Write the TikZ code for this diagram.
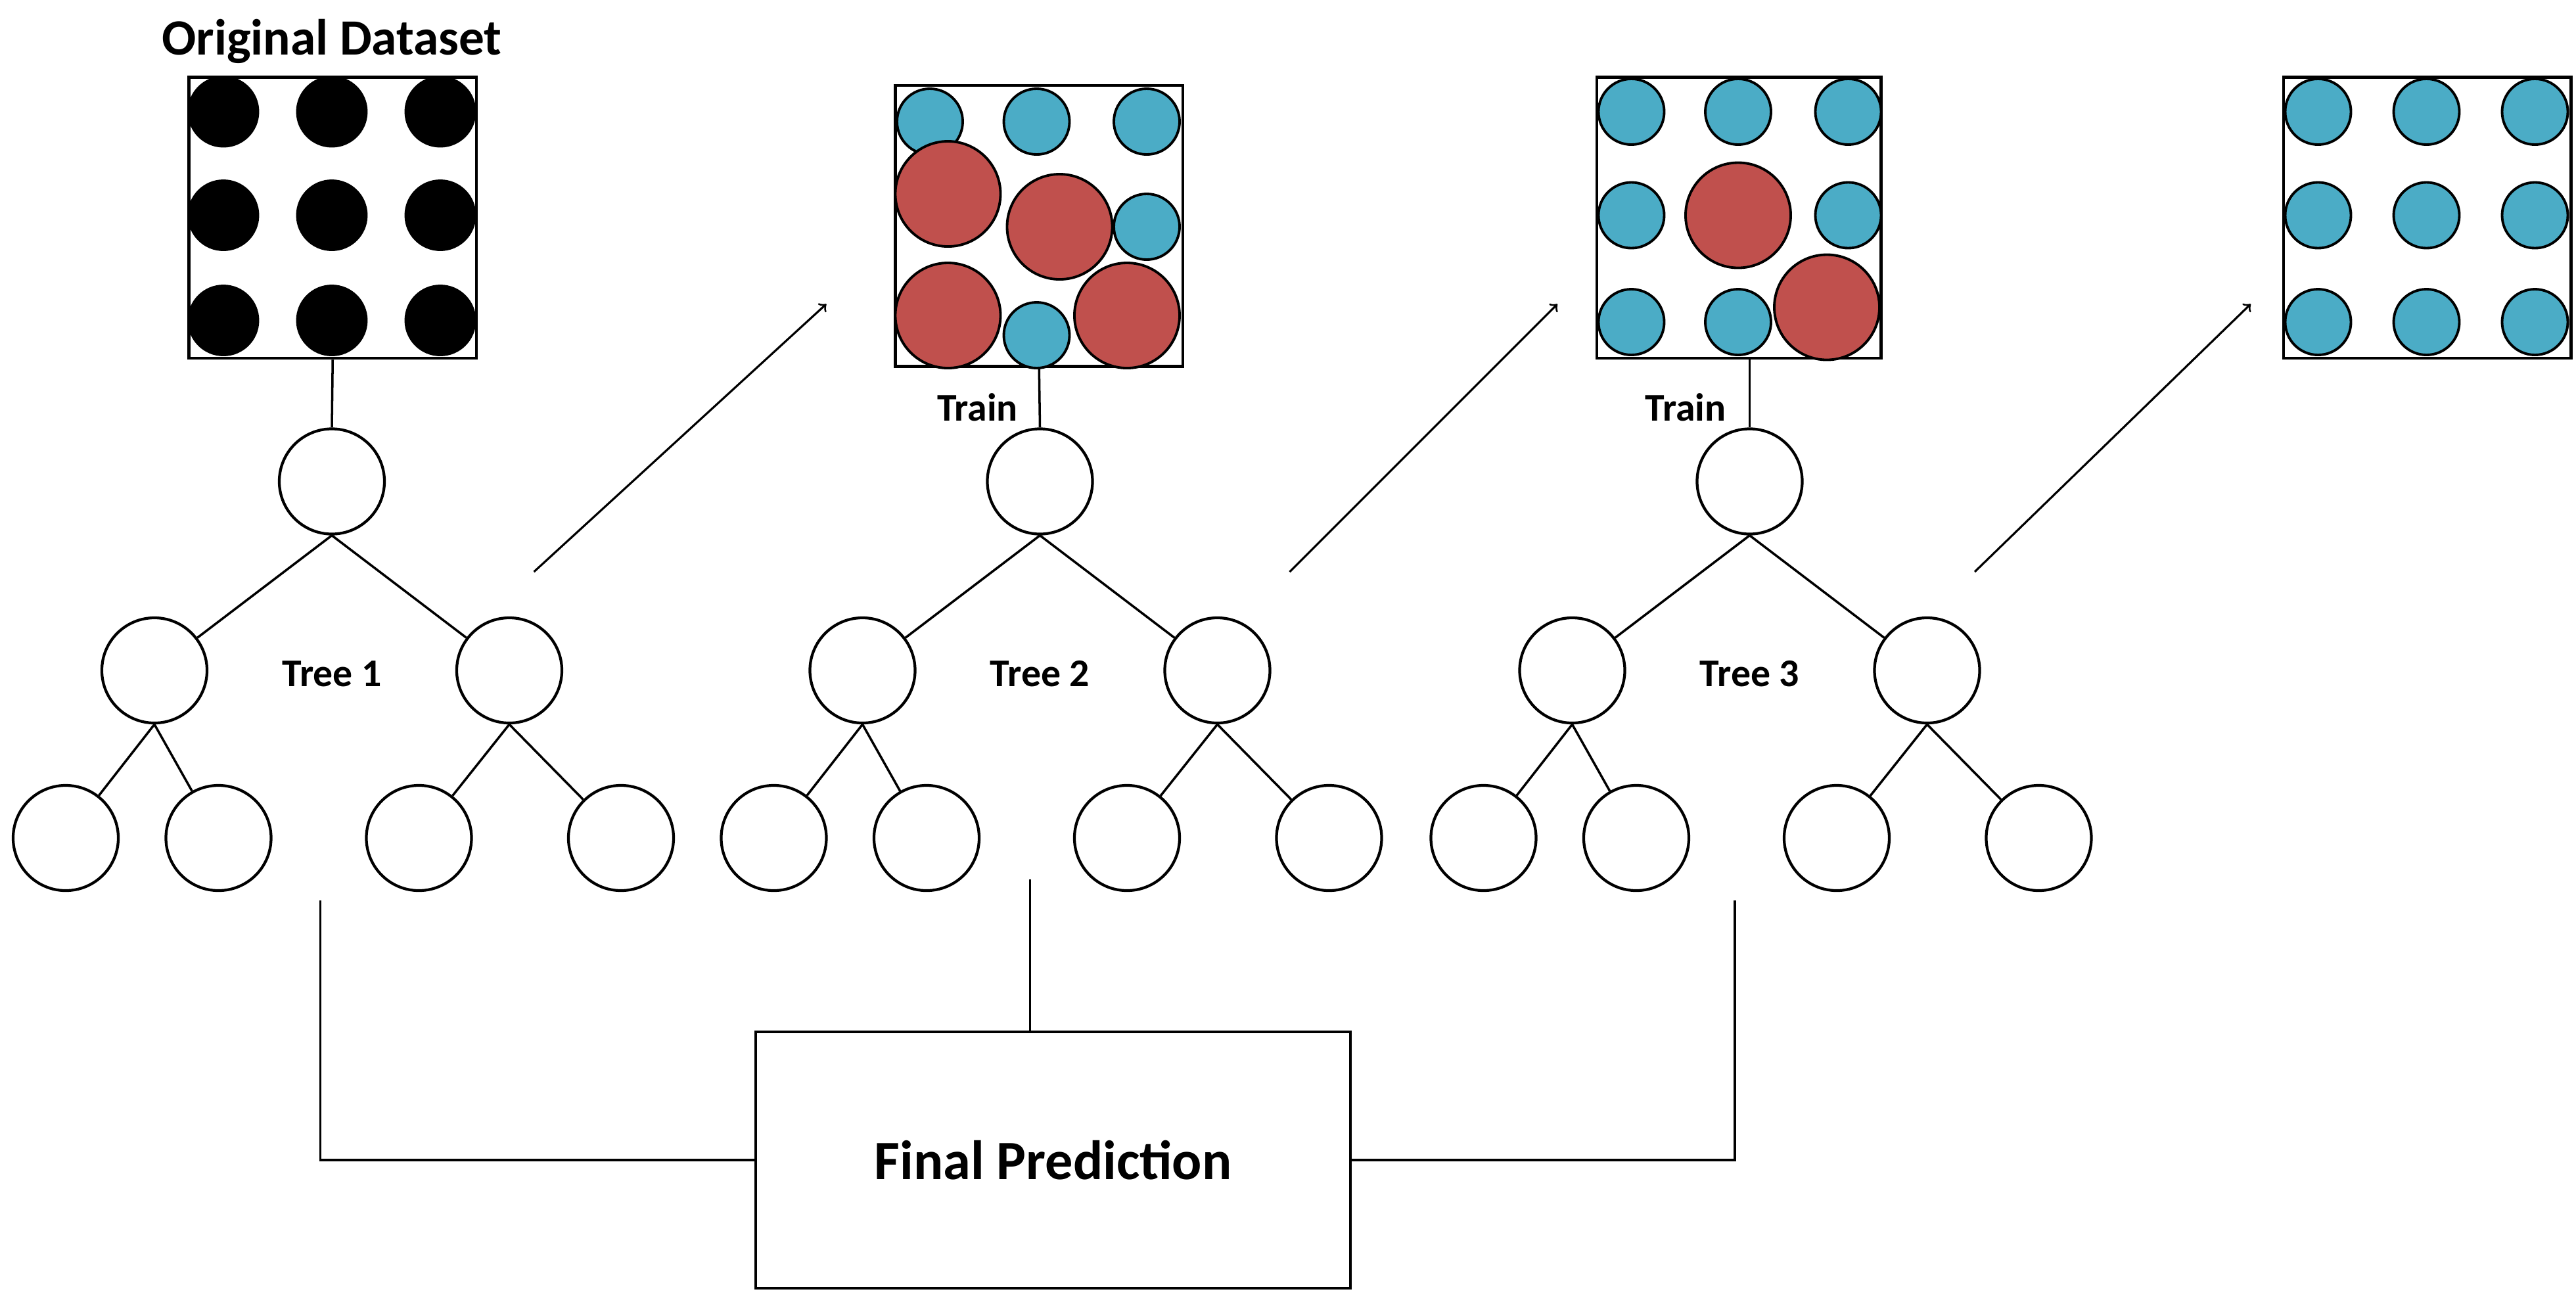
\documentclass[tikz,border=0pt]{standalone}
\usepackage{fontspec}
\setmainfont{Carlito}
\begin{document}
\begin{tikzpicture}[x=0.025cm,y=-0.025cm,
  nd/.style={circle,draw,line width=1.2pt,minimum size=1.6cm,inner sep=0pt,fill=white},
  dot/.style={circle,draw,line width=1.1pt,inner sep=0pt},
  bl/.style={dot,fill=black,minimum size=1.05cm},
  cy/.style={dot,fill=cyanb,minimum size=1.0cm},
  rd/.style={dot,fill=redb,minimum size=1.6cm},
  box/.style={draw,line width=1.3pt,inner sep=0pt},
  lab/.style={font=\bfseries\fontsize{17}{20}\selectfont},
  ln/.style={line width=1pt},
  arr/.style={line width=0.9pt,->}]
\definecolor{cyanb}{HTML}{4BACC6}
\definecolor{redb}{HTML}{C0504D}
\useasboundingbox (0,0) rectangle (1568,792);
% title
\node[font=\bfseries\fontsize{22}{26}\selectfont] (title) at (202,25) {Original Dataset};
% boxes
\node[box,minimum width=4.375cm,minimum height=4.275cm] (b1) at (202.5,132.5) {};
\node[box,minimum width=4.375cm,minimum height=4.275cm] (b2) at (632.5,137.5) {};
\node[box,minimum width=4.325cm,minimum height=4.275cm] (b3) at (1058.5,132.5) {};
\node[box,minimum width=4.375cm,minimum height=4.275cm] (b4) at (1477.5,132.5) {};
% box 1 dots
\foreach \x in {136,202,268} \foreach \y in {68,131,195} \node[bl] at (\x,\y) {};
% box 2
\foreach \p/\s in {{566,74}/cy,{631,74}/cy,{698,74}/cy,{698,138}/cy,{577,118}/rd,{645,138}/rd,{577,192}/rd,{686,192}/rd,{631,204}/cy}
  \node[\s] at (\p) {};
% box 3
\foreach \p/\s in {{993,68}/cy,{1058,68}/cy,{1125,68}/cy,{993,131}/cy,{1125,131}/cy,{993,196}/cy,{1058,196}/cy,{1058,131}/rd,{1112,187}/rd}
  \node[\s] at (\p) {};
% box 4
\foreach \x in {1411,1477,1543} \foreach \y in {68,131,196} \node[cy] at (\x,\y) {};
% trees
\foreach \i/\cx in {1/202,2/633,3/1065}{
  \node[nd] (r\i) at (\cx,293) {};
  \node[nd] (cl\i) at (\cx-108,408) {};
  \node[nd] (cr\i) at (\cx+108,408) {};
  \node[nd] (l\i a) at (\cx-162,510) {};
  \node[nd] (l\i b) at (\cx-69,510) {};
  \node[nd] (l\i c) at (\cx+53,510) {};
  \node[nd] (l\i d) at (\cx+176,510) {};
  \draw[ln] (r\i.south) -- (cl\i);
  \draw[ln] (r\i.south) -- (cr\i);
  \draw[ln] (cl\i.south) -- (l\i a);
  \draw[ln] (cl\i.south) -- (l\i b);
  \draw[ln] (cr\i.south) -- (l\i c);
  \draw[ln] (cr\i.south) -- (l\i d);
  \node[lab] (t\i) at (\cx,410) {Tree \i};
}
\draw[ln] (b1.south) -- (r1.north);
\draw[ln] (b2.south) -- (r2.north);
\draw[ln] (b3.south -| r3) -- (r3.north);
\node[lab] (tr2) at (595,248) {Train};
\node[lab] (tr3) at (1026,248) {Train};
% arrows
\coordinate (a1s) at (325,348); \coordinate (a1e) at (503,185);
\coordinate (a2s) at (785,348); \coordinate (a2e) at (948,185);
\coordinate (a3s) at (1202,348); \coordinate (a3e) at (1370,185);
\draw[arr] (a1s) -- (a1e);
\draw[arr] (a2s) -- (a2e);
\draw[arr] (a3s) -- (a3e);
% final prediction
\node[box,line width=1pt,minimum width=9.05cm,minimum height=3.9cm,font=\bfseries\fontsize{24}{28}\selectfont] (fp) at (641,706) {Final Prediction};
\coordinate (p1) at (195,548);
\coordinate (p2) at (627,535);
\coordinate (p3) at (1056,548);
\draw[ln] (p1) |- (fp.west);
\draw[ln] (p2) -- (fp.north -| p2);
\draw[ln] (p3) |- (fp.east);
\end{tikzpicture}
\end{document}
